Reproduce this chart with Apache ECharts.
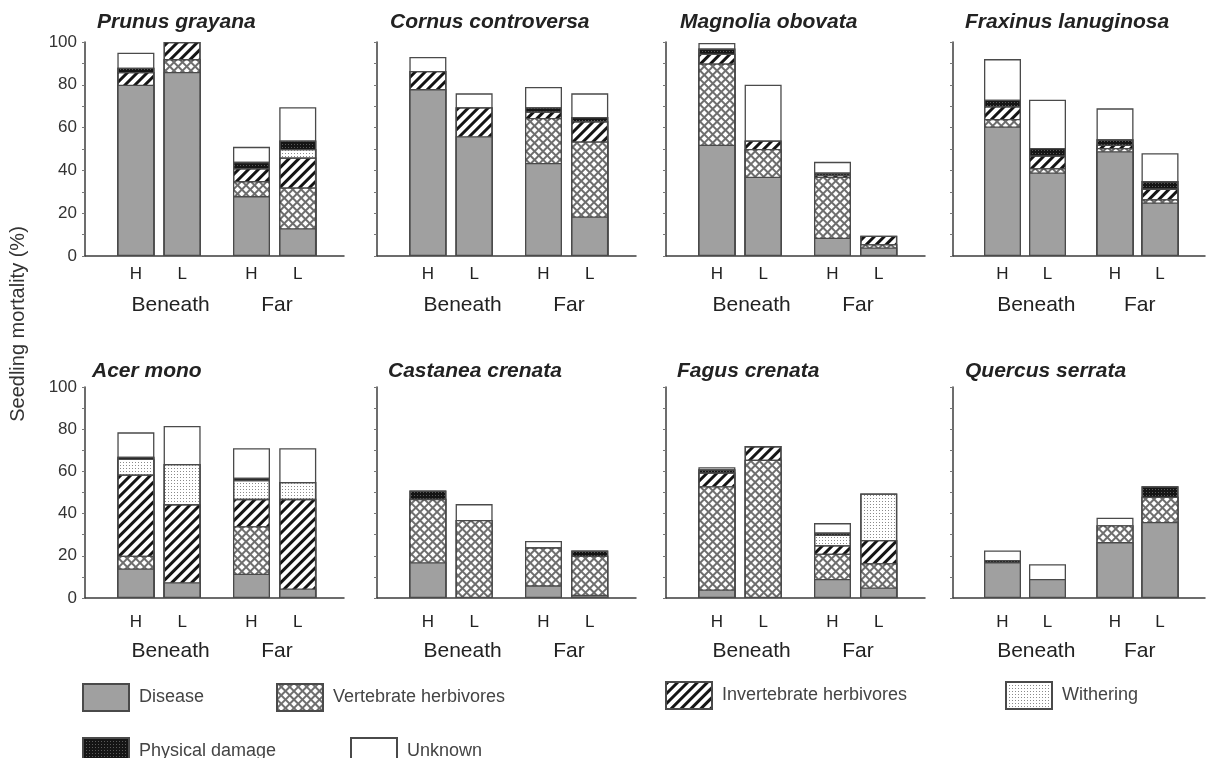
<!DOCTYPE html>
<html><head><meta charset="utf-8">
<script src="https://cdn.jsdelivr.net/npm/echarts@6/dist/echarts.min.js"></script>
<style>html,body{margin:0;padding:0;background:#fff}#c{width:1208px;height:758px}</style>
</head><body><div id="c"></div><script>
// ---------------- data ----------------
const CAUSES = ['Disease', 'Vertebrate herbivores', 'Invertebrate herbivores', 'Withering', 'Physical damage', 'Unknown'];
const SPECIES = ['Prunus grayana', 'Cornus controversa', 'Magnolia obovata', 'Fraxinus lanuginosa',
                 'Acer mono', 'Castanea crenata', 'Fagus crenata', 'Quercus serrata'];
const LIGHT = ['H', 'L', 'H', 'L'];
const SITES = ['Beneath', 'Far'];
const Y_TICKS = [0, 20, 40, 60, 80, 100];

// rows follow CAUSES; columns: Beneath-H, Beneath-L, Far-H, Far-L (seedling mortality %)
const prunusGrayana = [
  [80, 86, 28, 13],
  [0, 6, 7, 19],
  [6, 8, 6, 14],
  [0, 0, 0, 4],
  [2, 0, 3, 4],
  [7, 0, 7, 15.5]
];
const cornusControversa = [
  [78, 56, 43.5, 18.5],
  [0, 0, 21, 35],
  [8.5, 13.5, 3, 9.5],
  [0, 0, 0, 0],
  [0, 0, 2, 2],
  [6.5, 6.5, 9.5, 11]
];
const magnoliaObovata = [
  [52, 37, 8.5, 4],
  [38, 13, 28.5, 1.5],
  [4.5, 4, 1, 4],
  [0, 0, 0, 0],
  [2.5, 0, 1, 0],
  [2.5, 26, 5, 0]
];
const fraxinusLanuginosa = [
  [60.5, 39, 49, 25],
  [3.5, 2, 1.5, 1.5],
  [6, 6, 1.5, 5],
  [0, 0, 0, 0],
  [3, 3.5, 2.5, 3.5],
  [19, 22.5, 14.5, 13]
];
const acerMono = [
  [14, 7.5, 11.5, 4.5],
  [6, 0, 22.5, 0],
  [38.5, 37, 13, 42.5],
  [7.5, 19, 9, 8],
  [1, 0, 1, 0],
  [11.5, 18, 14, 16]
];
const castaneaCrenata = [
  [17, 0, 6, 1.5],
  [30, 37, 18, 18.5],
  [0, 0, 0, 0],
  [0, 0, 0, 0],
  [4, 0, 0, 2.5],
  [0, 7.5, 3, 0]
];
const fagusCrenata = [
  [4, 0, 9, 5],
  [49, 65.5, 12, 11.5],
  [6.5, 6.5, 4, 11],
  [0, 0, 5, 22],
  [1.5, 0, 1, 0],
  [1, 0, 4.5, 0]
];
const quercusSerrata = [
  [17, 9, 26.5, 36],
  [0, 0, 8, 12],
  [0, 0, 0, 0],
  [0, 0, 0, 0],
  [1, 0, 0, 5],
  [4.5, 7, 3.5, 0]
];
const PANEL_DATA = [prunusGrayana, cornusControversa, magnoliaObovata, fraxinusLanuginosa,
                    acerMono, castaneaCrenata, fagusCrenata, quercusSerrata];

// ---------------- layout ----------------
const SLOT_X = [0, 1, 2.5, 3.5];      // bar slots along the x value axis
const GROUP_X = [0.75, 3.05];         // where the site labels sit
const X_MIN = -1.1, X_MAX = 4.5;
const COL_LEFT = [85, 377, 666, 953];
const GRID_W = 259;
const ROW_TOP = [42, 387];
const ROW_H = [214, 211];
const LIGHT_MARGIN = [10, 16];
const SITE_MARGIN = [39, 43];
const TITLE_POS = [[97, 12], [390, 12], [680, 12], [965, 12], [92, 361], [388, 361], [677, 361], [965, 361]];
const FONT = 'Liberation Sans';

const BORDER = { borderColor: '#4a4a4a', borderWidth: 1.3 };
const STYLES = [
  Object.assign({ color: '#a0a0a0' }, BORDER),
  Object.assign({ color: '#6e6e6e', decal: { symbol: 'rect', symbolSize: 1, dashArrayX: [4, 1.6], dashArrayY: [4, 1.6], rotation: Math.PI / 4, color: '#ffffff' } }, BORDER),
  Object.assign({ color: '#ffffff', decal: { symbol: 'rect', symbolSize: 1, dashArrayX: [1, 0], dashArrayY: [3, 4], rotation: -Math.PI / 4, color: '#151515' } }, BORDER),
  Object.assign({ color: '#ffffff', decal: { symbol: 'rect', symbolSize: 1, dashArrayX: [1, 1.6], dashArrayY: [1, 1.6], color: '#8a8a8a' } }, BORDER),
  Object.assign({ color: '#151515', decal: { symbol: 'rect', symbolSize: 1, dashArrayX: [1, 1.6], dashArrayY: [1, 1.6], color: '#5a5a5a' } }, BORDER),
  Object.assign({ color: '#ffffff' }, BORDER)
];

const near = (a, b) => Math.abs(a - b) < 0.01;

const grid = [], xAxis = [], yAxis = [], series = [], title = [];
PANEL_DATA.forEach((rows, p) => {
  const col = p % 4, row = Math.floor(p / 4);
  grid.push({ left: COL_LEFT[col], top: ROW_TOP[row], width: GRID_W, height: ROW_H[row] });
  xAxis.push({
    type: 'value', gridIndex: p, min: X_MIN, max: X_MAX, interval: 0.1,
    axisLine: { show: true, onZero: false, lineStyle: { color: '#3c3c3c', width: 1.5 } },
    axisTick: { show: false }, splitLine: { show: false },
    axisLabel: {
      margin: LIGHT_MARGIN[row], fontSize: 17, color: '#222', fontFamily: FONT,
      showMinLabel: true, showMaxLabel: true,
      formatter: v => { const i = SLOT_X.findIndex(s => near(s, v)); return i >= 0 ? LIGHT[i] : ''; }
    }
  });
  xAxis.push({
    type: 'value', gridIndex: p, min: X_MIN, max: X_MAX, interval: 0.05, position: 'bottom',
    axisLine: { show: false, onZero: false }, axisTick: { show: false }, splitLine: { show: false },
    axisLabel: {
      margin: SITE_MARGIN[row], fontSize: 21, color: '#222', fontFamily: FONT,
      formatter: v => { const i = GROUP_X.findIndex(s => near(s, v)); return i >= 0 ? SITES[i] : ''; }
    }
  });
  yAxis.push({
    type: 'value', gridIndex: p, min: Y_TICKS[0], max: Y_TICKS[Y_TICKS.length - 1], interval: Y_TICKS[1] - Y_TICKS[0],
    axisLine: { show: true, onZero: false, lineStyle: { color: '#3c3c3c', width: 1.5 } },
    axisTick: { show: true, length: 3, lineStyle: { color: '#777' } },
    minorTick: { show: true, splitNumber: 2, length: 3, lineStyle: { color: '#777' } },
    splitLine: { show: false },
    axisLabel: { show: col === 0, fontSize: 17, color: '#333', margin: 8, fontFamily: FONT }
  });
  title.push({
    text: SPECIES[p], left: TITLE_POS[p][0], top: TITLE_POS[p][1], padding: 0,
    textStyle: { fontStyle: 'italic', fontWeight: 'bold', fontSize: 21, color: '#222', fontFamily: FONT }
  });
  // Segments are drawn as overlapping bars from the baseline, each reaching the
  // running total of the causes up to it; the topmost cause is drawn first so
  // lower causes paint over it, which leaves each cause's own slice visible.
  const cumulative = rows.map((_, k) => rows[0].map((__, i) => rows.slice(0, k + 1).reduce((s, r) => s + r[i], 0)));
  for (let k = rows.length - 1; k >= 0; k--) {
    series.push({
      type: 'bar', name: CAUSES[k], xAxisIndex: 2 * p, yAxisIndex: p,
      barWidth: 37, barGap: '-100%', itemStyle: STYLES[k], emphasis: { disabled: true },
      data: cumulative[k].map((v, i) => [SLOT_X[i], rows[k][i] > 0 ? v : null])
    });
  }
});

const LEGEND_POS = [[82, 683], [276, 683], [665, 681], [1005, 681], [82, 737], [350, 737]];
const legend = CAUSES.map((c, k) => ({
  data: [c], left: LEGEND_POS[k][0], top: LEGEND_POS[k][1], padding: 0,
  itemWidth: 46, itemHeight: 27, icon: 'rect', selectedMode: false,
  textStyle: { fontSize: 18, color: '#444', fontFamily: FONT, padding: [0, 0, 0, 5] }
}));

const chart = echarts.init(document.getElementById('c'), null, { renderer: 'canvas' });
chart.setOption({
  animation: false,
  backgroundColor: '#ffffff',
  textStyle: { fontFamily: FONT },
  title, grid, xAxis, yAxis, series, legend,
  graphic: [{
    type: 'text', x: 18, y: 324, rotation: Math.PI / 2,
    style: { text: 'Seedling mortality (%)', fontSize: 20, fontFamily: FONT, fill: '#333', align: 'center', verticalAlign: 'middle' }
  }]
});
</script></body></html>
